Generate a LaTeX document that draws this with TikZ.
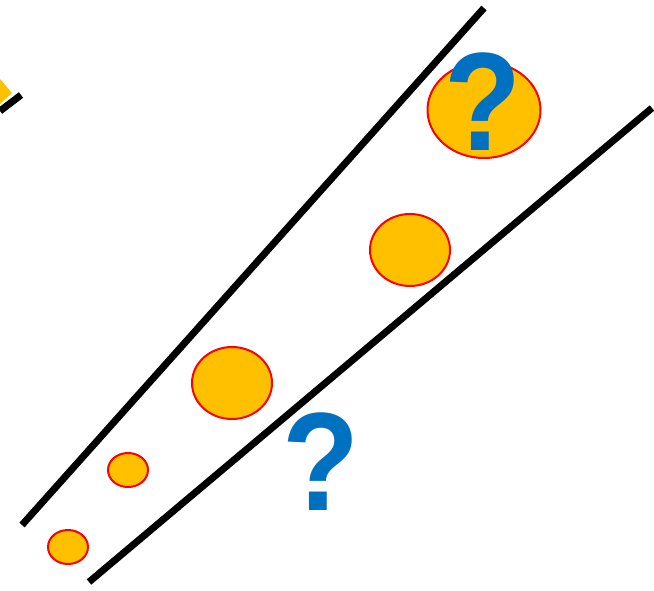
\documentclass[tikz,border=0pt]{standalone}
\usepackage{fontspec}
\setmainfont{Liberation Sans}
\definecolor{gold}{HTML}{FFC000}
\definecolor{qblue}{HTML}{0070C0}
\begin{document}
\begin{tikzpicture}[x=1pt,y=-1pt,
  bar/.style={line width=7pt},
  blob/.style={fill=gold,draw=red,line width=2pt},
  qmark/.style={text=qblue,font=\fontsize{140}{140}\selectfont\bfseries,inner sep=0pt,xscale=0.9}]
\useasboundingbox (0,0) rectangle (654,590);
\fill[gold] (0,79) -- (12,93) -- (0,104) -- cycle;
\coordinate (t0) at (0,111); \coordinate (t1) at (21,95);
\draw[bar] (t0) -- (t1);
\coordinate (a0) at (22,525); \coordinate (a1) at (484,8);
\coordinate (b0) at (89,582); \coordinate (b1) at (652,108);
\draw[bar] (a0) -- (a1);
\draw[bar] (b0) -- (b1);
\draw[blob] (68,547) ellipse [x radius=20, y radius=17];
\draw[blob] (128,470) ellipse [x radius=20, y radius=17];
\draw[blob] (232,383) ellipse [x radius=40, y radius=36];
\draw[blob] (410,250) ellipse [x radius=40, y radius=36];
\draw[blob] (484,110) ellipse [x radius=56.5, y radius=48];
\node[qmark] (q1) at (482.5,102) {?};
\node[qmark] (q2) at (321,462) {?};
\end{tikzpicture}
\end{document}
